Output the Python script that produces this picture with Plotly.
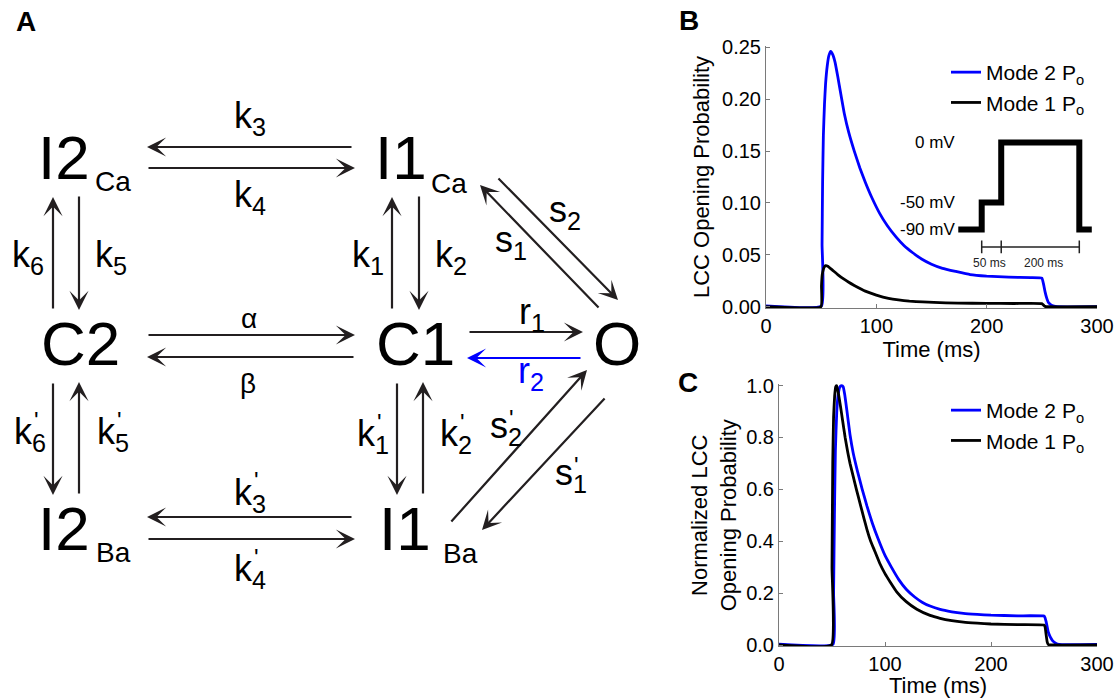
import plotly.graph_objects as go

W, H = 1119, 698

# ---------------- data ----------------
t_b_mode2 = [0, 50.3, 50.8, 51.3, 52, 53, 54, 55.5, 57, 58.7, 60.5, 62.5, 65, 67.8, 71, 75, 80, 85, 90, 96,
             103, 110, 118, 125, 133, 141, 150, 160, 172, 185, 200, 220, 240, 250, 251.5, 253, 254.5, 256,
             258, 261, 264, 300]
po_b_mode2 = [0.0008, 0.0008, 0.06, 0.12, 0.165, 0.195, 0.215, 0.232, 0.242, 0.246, 0.243, 0.236, 0.222,
              0.205, 0.186, 0.168, 0.150, 0.134, 0.120, 0.105, 0.090, 0.078, 0.067, 0.059, 0.052, 0.046,
              0.041, 0.037, 0.034, 0.031, 0.0295, 0.0285, 0.028, 0.0275, 0.022, 0.014, 0.008, 0.004, 0.002,
              0.0006, 0.0, 0.0]

t_b_mode1 = [0, 49.8, 50.3, 51, 52, 53, 54, 56, 60, 65, 70, 75, 80, 90, 100, 111, 120, 130, 142, 152, 174,
             200, 225, 250, 251, 252, 253, 254, 300]
po_b_mode1 = [0, 0, 0.02, 0.031, 0.036, 0.0385, 0.0395, 0.039, 0.0355, 0.031, 0.027, 0.0235, 0.0205, 0.015,
              0.0112, 0.008, 0.0065, 0.0054, 0.0046, 0.0041, 0.0035, 0.0032, 0.0031, 0.003, 0.0022, 0.001,
              0.0003, 0, 0]

t_c_mode2 = [0, 51, 51.5, 52.3, 53.2, 54.5, 56, 57.5, 59, 60.5, 62, 64, 67, 70, 74, 78.5, 83, 88, 93.4, 100,
             106, 113, 120, 128, 135, 142.5, 152, 163, 174, 187, 200, 225, 250, 251, 252, 253, 254, 256, 258,
             261, 264, 300]
po_c_mode2 = [0.003, 0.003, 0.2, 0.5, 0.75, 0.9, 0.97, 0.995, 1.0, 0.995, 0.965, 0.905, 0.81, 0.74, 0.67,
              0.6, 0.535, 0.47, 0.41, 0.345, 0.3, 0.252, 0.215, 0.185, 0.165, 0.15, 0.137, 0.128, 0.122,
              0.118, 0.115, 0.1125, 0.1115, 0.105, 0.09, 0.07, 0.05, 0.03, 0.017, 0.007, 0.002, 0.002]

t_c_mode1 = [0, 49.5, 50, 50.7, 51.5, 52.5, 53.5, 54.5, 56, 58, 60, 62.4, 65, 67, 70, 73, 76.5, 80, 83, 86.5,
             90, 95, 100, 105, 111, 120, 130, 142.5, 152, 163, 174, 187, 200, 225, 250, 251, 252, 253, 254,
             256, 300]
po_c_mode1 = [0.0, 0.0, 0.3, 0.7, 0.88, 0.96, 0.995, 1.0, 0.97, 0.92, 0.865, 0.8, 0.74, 0.7, 0.65, 0.6,
              0.545, 0.49, 0.445, 0.4, 0.365, 0.315, 0.275, 0.242, 0.205, 0.167, 0.138, 0.114, 0.103, 0.094,
              0.088, 0.084, 0.081, 0.0786, 0.077, 0.07, 0.04, 0.012, 0.002, 0.0, 0.0]

# voltage-clamp protocol (inset in B); drawn as a schematic (levels not to scale)
protocol_t = [-60, 0, 0, 50, 50, 250, 250, 282]
protocol_mv = [-90, -90, -50, -50, 0, 0, -90, -90]
protocol_levels = {-90: 0.0, -50: 0.31, 0: 1.0}
scalebar_t = [0, 50, 250]
scalebar_labels = ["50 ms", "200 ms"]

x_ticks = [0, 100, 200, 300]
b_y_ticks = [0.0, 0.05, 0.10, 0.15, 0.20, 0.25]
c_y_ticks = [0.0, 0.2, 0.4, 0.6, 0.8, 1.0]
series_names = ["Mode 2 P<sub>o</sub>", "Mode 1 P<sub>o</sub>"]

# ---------------- styling helpers ----------------
FONT = "Liberation Sans, Arial, sans-serif"
BLUE = "#0000ff"
INK = "#231f20"
AXC = "#7a7a7a"


def px_x(p):
    return p / W


def px_y(p):
    return 1 - p / H


fig = go.Figure()
LW = 2.8
SMOOTH = dict(shape="spline", smoothing=0.35)

# Panel B
fig.add_trace(go.Scatter(x=t_b_mode2, y=po_b_mode2, mode="lines", name=series_names[0],
                         line=dict(color=BLUE, width=LW, **SMOOTH), xaxis="x", yaxis="y", legend="legend"))
fig.add_trace(go.Scatter(x=t_b_mode1, y=po_b_mode1, mode="lines", name=series_names[1],
                         line=dict(color="black", width=LW, **SMOOTH), xaxis="x", yaxis="y", legend="legend"))
# Panel C
fig.add_trace(go.Scatter(x=t_c_mode2, y=po_c_mode2, mode="lines", name=series_names[0],
                         line=dict(color=BLUE, width=LW, **SMOOTH), xaxis="x2", yaxis="y2", legend="legend2"))
fig.add_trace(go.Scatter(x=t_c_mode1, y=po_c_mode1, mode="lines", name=series_names[1],
                         line=dict(color="black", width=LW, **SMOOTH), xaxis="x2", yaxis="y2", legend="legend2"))
# Inset protocol
fig.add_trace(go.Scatter(x=protocol_t, y=[protocol_levels[v] for v in protocol_mv], mode="lines",
                         line=dict(color="black", width=6), xaxis="x3", yaxis="y3",
                         showlegend=False, hoverinfo="skip"))
fig.add_trace(go.Scatter(x=scalebar_t, y=[-0.2] * len(scalebar_t), mode="lines+markers",
                         line=dict(color="#222", width=1.5),
                         marker=dict(symbol="line-ns-open", size=9, line=dict(color="#222", width=1.5)),
                         xaxis="x3", yaxis="y3", showlegend=False, hoverinfo="skip"))

axis_common = dict(showline=True, linecolor=AXC, linewidth=1, ticks="inside", ticklen=4,
                   tickcolor=AXC, tickwidth=1, showgrid=False, zeroline=False, automargin=False,
                   tickfont=dict(family=FONT, size=20, color="black"), mirror=False)

# pixel geometry of the plot areas
B_left, B_right = 766, 1097
B_top0, B_bot0 = 47.3, 306.7
b_range = [-0.0012, 0.2512]
b_scale = (B_bot0 - B_top0) / 0.25
B_top = B_top0 - (b_range[1] - 0.25) * b_scale
B_bot = B_bot0 + (0 - b_range[0]) * b_scale

C_left, C_right = 779, 1097
C_top0, C_bot0 = 385.5, 645
c_range = [-0.005, 1.005]
c_scale = (C_bot0 - C_top0)
C_top = C_top0 - (c_range[1] - 1) * c_scale
C_bot = C_bot0 + (0 - c_range[0]) * c_scale

title_font = dict(family=FONT, size=22, color="black")

fig.update_layout(
    xaxis=dict(axis_common, domain=[px_x(B_left), px_x(B_right)], range=[0, 300], tickvals=x_ticks,
               anchor="y", title=dict(text="Time (ms)", font=title_font, standoff=0)),
    yaxis=dict(axis_common, domain=[px_y(B_bot), px_y(B_top)], range=b_range, tickvals=b_y_ticks,
               tickformat=".2f", anchor="x",
               title=dict(text="LCC Opening Probability", font=title_font, standoff=6)),
    xaxis2=dict(axis_common, domain=[px_x(C_left), px_x(C_right)], range=[0, 300], tickvals=x_ticks,
                anchor="y2", title=dict(text="Time (ms)", font=title_font, standoff=0)),
    yaxis2=dict(axis_common, domain=[px_y(C_bot), px_y(C_top)], range=c_range, tickvals=c_y_ticks,
                tickformat=".1f", anchor="x2",
                title=dict(text="Normalized LCC<br>Opening Probability", font=title_font, standoff=3)),
)

# inset axes: time scale 0.3904 px/ms, t=0 at x=981.7 ; level 0 at y=229.5, 1 at 142.5
ins_sx = 0.3904
ins_x0 = 981.7
ins_rx = [-70, 292]
ins_sy = 87.0
ins_y0 = 229.5
ins_ry = [-0.45, 1.1]
fig.update_layout(
    xaxis3=dict(domain=[px_x(ins_x0 + ins_rx[0] * ins_sx), px_x(ins_x0 + ins_rx[1] * ins_sx)],
                range=ins_rx, visible=False, anchor="y3"),
    yaxis3=dict(domain=[px_y(ins_y0 - ins_ry[0] * ins_sy), px_y(ins_y0 - ins_ry[1] * ins_sy)],
                range=ins_ry, visible=False, anchor="x3"),
)

annotations = []

# voltage labels and scale bar labels in inset
for mv, lbl in [(0, "0 mV"), (-50, "-50 mV"), (-90, "-90 mV")]:
    annotations.append(dict(x=-63, y=protocol_levels[mv], xref="x3", yref="y3", text=lbl,
                            showarrow=False, xanchor="right", yanchor="middle",
                            font=dict(family=FONT, size=17, color="black")))
for xc, lbl in zip([19, 158], scalebar_labels):
    annotations.append(dict(x=xc, y=-0.38, xref="x3", yref="y3", text=lbl, showarrow=False,
                            xanchor="center", yanchor="middle",
                            font=dict(family=FONT, size=12, color="#222")))

# panel letters
for lbl, x, y in [("A", 26, 21), ("B", 689, 20), ("C", 688, 382)]:
    annotations.append(dict(x=px_x(x), y=px_y(y), xref="paper", yref="paper", text=f"<b>{lbl}</b>",
                            showarrow=False, xanchor="center", yanchor="middle",
                            font=dict(family=FONT, size=28, color="black")))

# ---------------- kinetic scheme (panel A) ----------------
states = [("I2", 64, 157), ("I1", 401, 157), ("C2", 80, 343), ("C1", 415, 343), ("O", 617, 343),
          ("I2", 64, 528), ("I1", 405, 528)]
state_subs = [("Ca", 113, 182), ("Ca", 449, 183), ("Ba", 113, 552), ("Ba", 460, 553)]
for txt, x, y in states:
    annotations.append(dict(x=px_x(x), y=px_y(y), xref="paper", yref="paper", text=txt, showarrow=False,
                            xanchor="center", yanchor="middle",
                            font=dict(family=FONT, size=62, color="black")))
for txt, x, y in state_subs:
    annotations.append(dict(x=px_x(x), y=px_y(y), xref="paper", yref="paper", text=txt, showarrow=False,
                            xanchor="center", yanchor="middle",
                            font=dict(family=FONT, size=28, color="black")))

arrows = [
    (353, 147, 147, 147, INK), (147, 168, 355, 168, INK),
    (53, 310, 53, 197, INK), (79, 195, 79, 310, INK),
    (392, 310, 392, 197, INK), (419, 195, 419, 310, INK),
    (147, 335, 355, 335, INK), (355, 357, 147, 357, INK),
    (53, 382, 53, 495, INK), (79, 495, 79, 382, INK),
    (397, 382, 397, 495, INK), (423, 495, 423, 382, INK),
    (353, 517, 147, 517, INK), (147, 539, 355, 539, INK),
    (468, 332, 583, 332, INK), (582, 358, 467, 358, BLUE),
    (600, 309, 480, 185, INK), (497, 177, 618, 300, INK),
    (450, 523, 587, 370, INK), (606, 397, 482, 530, INK),
]
for x0, y0, x1, y1, col in arrows:
    annotations.append(dict(x=px_x(x1), y=px_y(y1), xref="paper", yref="paper", text="",
                            ax=x0 - x1, ay=y0 - y1, showarrow=True, arrowhead=3, arrowsize=1.45,
                            arrowwidth=2.2, arrowcolor=col, standoff=0, startstandoff=0))

# rate labels: (letter, subscript, primed, left x, centre y, colour)
rates = [
    ("k", "3", False, 232, 118, "black"), ("k", "4", False, 232, 197, "black"),
    ("k", "6", False, 10, 257, "black"), ("k", "5", False, 93, 257, "black"),
    ("k", "1", False, 350, 257, "black"), ("k", "2", False, 433, 257, "black"),
    ("k", "6", True, 12, 434, "black"), ("k", "5", True, 95, 434, "black"),
    ("k", "1", True, 355, 436, "black"), ("k", "2", True, 438, 436, "black"),
    ("k", "3", True, 232, 495, "black"), ("k", "4", True, 232, 571, "black"),
    ("s", "2", False, 547, 212, "black"), ("s", "1", False, 493, 242, "black"),
    ("r", "1", False, 517, 314, "black"), ("r", "2", False, 516, 373, BLUE),
    ("s", "2", True, 488, 428, "black"), ("s", "1", True, 553, 475, "black"),
]
for letter, sub, primed, x, y, col in rates:
    annotations.append(dict(x=px_x(x), y=px_y(y), xref="paper", yref="paper",
                            text=f"{letter}<sub>{sub}</sub>", showarrow=False,
                            xanchor="left", yanchor="middle",
                            font=dict(family=FONT, size=36, color=col)))
    if primed:
        dx = 20 if letter == "k" else 19
        dy = -14 if letter == "k" else -10
        annotations.append(dict(x=px_x(x + dx), y=px_y(y + dy), xref="paper", yref="paper", text="'",
                                showarrow=False, xanchor="left", yanchor="middle",
                                font=dict(family=FONT, size=24, color=col)))

for sym, x, y in [("\u03b1", 249, 318), ("\u03b2", 248, 383)]:
    annotations.append(dict(x=px_x(x), y=px_y(y), xref="paper", yref="paper", text=sym, showarrow=False,
                            xanchor="center", yanchor="middle",
                            font=dict(family=FONT, size=28, color="black")))

legend_common = dict(font=dict(family=FONT, size=21, color="black"), bgcolor="rgba(0,0,0,0)",
                     xanchor="left", yanchor="top", borderwidth=0, tracegroupgap=0)

fig.update_layout(
    width=W, height=H, margin=dict(l=0, r=0, t=0, b=0),
    paper_bgcolor="white", plot_bgcolor="rgba(0,0,0,0)",
    annotations=annotations,
    legend=dict(legend_common, x=px_x(946), y=px_y(52)),
    legend2=dict(legend_common, x=px_x(946), y=px_y(390)),
    showlegend=True,
)

fig.write_html("out.html")
